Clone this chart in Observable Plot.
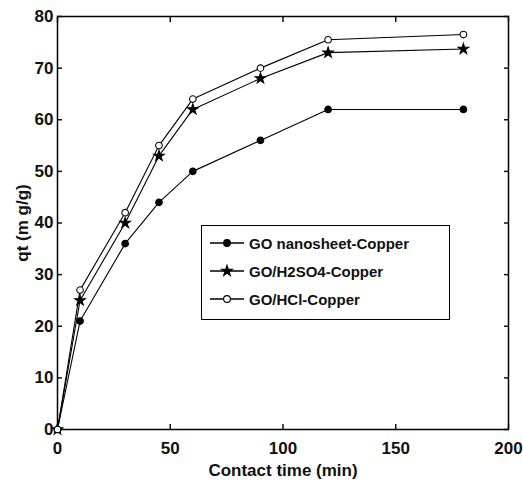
<!DOCTYPE html>
<html><head><meta charset="utf-8">
<script src="https://cdn.jsdelivr.net/npm/d3@7"></script>
<script src="https://cdn.jsdelivr.net/npm/@observablehq/plot@0.6"></script>
<style>
body{margin:0;background:#fff;}
#wrap{position:relative;width:523px;height:485px;}
#legend{position:absolute;left:201px;top:225px;width:247px;height:93px;border:1.5px solid #000;background:#fff;box-sizing:content-box;font-family:"Liberation Sans",Arial,sans-serif;font-weight:bold;font-size:15px;color:#111;}
.row{position:absolute;left:7px;height:20px;display:flex;align-items:center;}
.row svg{margin-right:4px;}
</style></head>
<body><div id="wrap"><div id="chart"></div><div id="legend"></div></div>
<script>
const times = [0, 10, 30, 45, 60, 90, 120, 180];
const seriesNames = ["GO nanosheet-Copper", "GO/H2SO4-Copper", "GO/HCl-Copper"];
const goNano   = [0, 21, 36, 44, 50, 56, 62, 62];
const goH2SO4  = [0, 25, 40, 53, 62, 68, 73, 73.7];
const goHCl    = [0, 27, 42, 55, 64, 70, 75.5, 76.5];
const xTicks = [0, 50, 100, 150, 200];
const yTicks = [0, 10, 20, 30, 40, 50, 60, 70, 80];
const symbols = ["circle", "star", "circle"];
const fills = ["#000", "#000", "#fff"];

const allSeries = [goNano, goH2SO4, goHCl];
const data = [];
allSeries.forEach((vals, s) => vals.forEach((v, i) => data.push({t: times[i], q: v, series: seriesNames[s]})));

const font = "'Liberation Sans', Arial, sans-serif";
const chart = Plot.plot({
  width: 523, height: 485,
  marginLeft: 57, marginRight: 15, marginTop: 16, marginBottom: 56,
  style: {fontFamily: font, fontSize: "17px", fontWeight: "bold", color: "#111", background: "#fff"},
  x: {domain: [0, 200], ticks: xTicks},
  y: {domain: [0, 80], ticks: yTicks},
  symbol: {domain: seriesNames, range: symbols},
  marks: [
    Plot.frame({stroke: "#000", strokeWidth: 1.5}),
    Plot.axisX(xTicks, {anchor: "bottom", tickSize: -5, tickPadding: 17, label: "Contact time (min)", labelAnchor: "center", labelArrow: "none", labelOffset: 46, strokeWidth: 1.5}),
    Plot.axisX(xTicks, {anchor: "top", tickSize: -5, tickFormat: () => "", label: null, strokeWidth: 1.5}),
    Plot.axisY(yTicks, {anchor: "left", tickSize: -5, tickPadding: 9, label: "qt (m g/g)", labelAnchor: "center", labelArrow: "none", labelOffset: 42, strokeWidth: 1.5}),
    Plot.axisY(yTicks, {anchor: "right", tickSize: -5, tickFormat: () => "", label: null, strokeWidth: 1.5}),
    Plot.line(data, {x: "t", y: "q", z: "series", stroke: "#000", strokeWidth: 1.1}),
    Plot.dot(data, {x: "t", y: "q", symbol: "series", r: 3.3, stroke: "#000", strokeWidth: 1.1,
      fill: d => fills[seriesNames.indexOf(d.series)]})
  ]
});
document.getElementById("chart").appendChild(chart);

// legend
const leg = document.getElementById("legend");
const shapes = {circle: d3.symbolCircle, star: d3.symbolStar};
seriesNames.forEach((name, i) => {
  const row = document.createElement("div");
  row.className = "row";
  row.style.top = (7 + i * 28) + "px";
  const path = d3.symbol(shapes[symbols[i]], 36)();
  row.innerHTML = `<svg width="36" height="14"><line x1="1" x2="35" y1="7" y2="7" stroke="#000" stroke-width="1.5"/><path d="${path}" transform="translate(18,7)" fill="${fills[i]}" stroke="#000" stroke-width="1.1"/></svg><span>${name}</span>`;
  leg.appendChild(row);
});
</script>
</body></html>
